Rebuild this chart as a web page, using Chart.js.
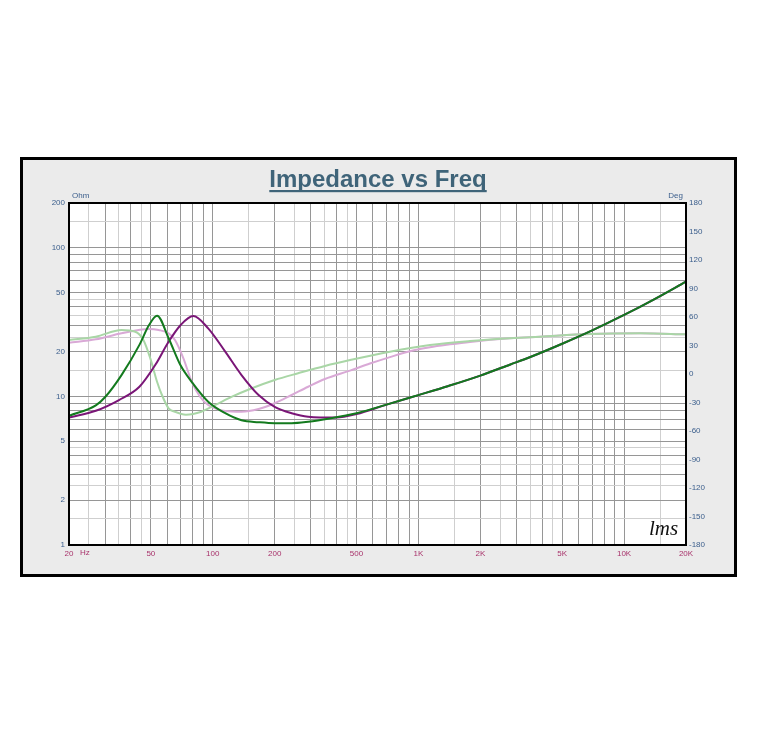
<!DOCTYPE html>
<html><head><meta charset="utf-8">
<script src="https://cdn.jsdelivr.net/npm/chart.js@4.4.0/dist/chart.umd.min.js"></script>
<style>html,body{margin:0;padding:0;background:#fff}canvas{display:block}</style>
</head><body>
<canvas id="c" width="763" height="756"></canvas>
<script>
// ---- axis ticks / labels ----
const xTickValues = [20, 50, 100, 200, 500, 1000, 2000, 5000, 10000, 20000];
const xTickLabels = ['20', '50', '100', '200', '500', '1K', '2K', '5K', '10K', '20K'];
const yTickValues = [1, 2, 5, 10, 20, 50, 100, 200];
const yTickLabels = ['1', '2', '5', '10', '20', '50', '100', '200'];
const phaseTicks = [-180, -150, -120, -90, -60, -30, 0, 30, 60, 90, 120, 150, 180];

// ---- impedance (Ohm) ----
const impGreenFreq = [20, 27, 30, 36, 44, 49, 53.6, 61, 69.5, 79, 95, 115, 138, 167, 200, 242, 291, 370, 500, 700, 1000, 1400, 2000, 2800, 3500, 5000, 7000, 10000, 14000, 20000];
const impGreen     = [7.4, 8.7, 9.9, 13.9, 22.2, 30.2, 34.9, 24.6, 16.3, 12.5, 9.2, 7.7, 6.9, 6.7, 6.6, 6.6, 6.75, 7.1, 7.7, 8.8, 10.2, 11.75, 13.8, 16.4, 18.4, 22.6, 27.8, 35.3, 45.0, 59.2];

const impPurpleFreq = [20, 27, 35, 44, 52.6, 61, 69.5, 80.4, 95, 115, 138, 167, 200, 242, 291, 400, 500, 700, 1000, 1400, 2000, 2800, 3500, 5000, 7000, 10000, 14000, 20000];
const impPurple     = [7.2, 8.0, 9.45, 11.6, 16.3, 23.3, 30.0, 34.7, 28.7, 20.0, 13.9, 10.2, 8.5, 7.7, 7.3, 7.2, 7.6, 8.8, 10.2, 11.75, 13.8, 16.4, 18.4, 22.6, 27.8, 35.3, 45.0, 59.2];

// ---- phase (Deg) ----
const phaseGreenFreq = [20, 27, 36, 42, 46, 49.7, 53.6, 56.6, 61, 65.5, 74, 88, 103, 124, 155, 200, 260, 351, 465, 727, 1138, 1781, 2786, 3900, 6800, 12000, 20000];
const phaseGreen     = [35.8, 39.3, 46.3, 44.5, 35.8, 16.5, -8.1, -22.1, -36.1, -39.7, -42.8, -39.7, -32.6, -23.9, -15.0, -6.3, 0.8, 8.5, 14.7, 23.5, 30.5, 34.7, 37.6, 39.3, 42.1, 42.8, 41.8];

const phasePurpleFreq = [20, 27, 36, 48.8, 54.6, 61, 65.5, 72, 79, 86.7, 95, 115, 138, 167, 200, 242, 291, 351, 465, 581, 727, 909, 1138, 1424, 1781, 2786, 3900, 6800, 12000, 20000];
const phasePurple     = [32.9, 36.5, 42.8, 47.4, 46.3, 42.8, 35.8, 16.5, -8.1, -23.9, -32.6, -38.9, -39.7, -36.8, -30.8, -22.1, -13.4, -5.3, 3.5, 11.0, 17.8, 24.0, 28.2, 31.2, 33.8, 37.6, 39.3, 42.1, 42.8, 41.8];

// ---- styling ----
const DARK_GRID = '#969696';
const LIGHT_GRID = '#cfcfcf';
const BLUE = '#3b5e8c';
const MAGENTA = '#a8336b';
const FONT = '"Liberation Sans", Arial, sans-serif';
Chart.defaults.font.family = FONT;

const gridMult = [1, 1.5, 2, 2.5, 3, 3.5, 4, 4.5, 5, 6, 7, 8, 9];
function gridValues(min, max) {
  const out = [];
  for (let d = 1; d <= 10000; d *= 10)
    for (const m of gridMult) {
      const v = +(m * d).toFixed(6);
      if (v >= min && v <= max) out.push(v);
    }
  if (!out.includes(max)) out.push(max);
  return out;
}
function isHalf(v) {
  const d = Math.pow(10, Math.floor(Math.log10(v) + 1e-9));
  const m = Math.round(v / d * 10) / 10;
  return Math.abs(m - Math.round(m)) > 1e-6;
}
const pts = (f, v) => f.map((x, i) => ({ x, y: v[i] }));

const framePlugin = {
  id: 'frame',
  beforeDraw(chart) {
    const ctx = chart.ctx, a = chart.chartArea;
    ctx.save();
    ctx.fillStyle = '#ffffff';
    ctx.fillRect(0, 0, chart.width, chart.height);
    ctx.fillStyle = '#ebebeb';
    ctx.fillRect(21.5, 158.5, 714, 417);
    ctx.lineWidth = 3;
    ctx.strokeStyle = '#000';
    ctx.strokeRect(21.5, 158.5, 714, 417);
    ctx.fillStyle = '#ffffff';
    ctx.fillRect(a.left, a.top, a.right - a.left, a.bottom - a.top);
    ctx.restore();
  },
  afterDraw(chart) {
    const ctx = chart.ctx, a = chart.chartArea;
    ctx.save();
    ctx.lineWidth = 2;
    ctx.strokeStyle = '#000';
    ctx.strokeRect(a.left, a.top, a.right - a.left, a.bottom - a.top);
    // title
    ctx.font = 'bold 24px ' + FONT;
    ctx.fillStyle = '#3f6479';
    ctx.textAlign = 'center';
    ctx.textBaseline = 'alphabetic';
    const title = 'Impedance vs Freq';
    ctx.fillText(title, 378, 187);
    const w = ctx.measureText(title).width;
    ctx.fillRect(378 - w / 2, 190, w, 2.2);
    // axis units
    ctx.font = '8px ' + FONT;
    ctx.fillStyle = BLUE;
    ctx.textAlign = 'left';
    ctx.textBaseline = 'middle';
    ctx.fillText('Ohm', 72, 196);
    ctx.textAlign = 'right';
    ctx.fillText('Deg', 683, 196);
    ctx.fillStyle = MAGENTA;
    ctx.textAlign = 'left';
    const xs = chart.scales.x;
    ctx.fillText('Hz', xs.getPixelForValue(20) + 11, 553);
    // logo
    ctx.font = 'italic 21px "Liberation Serif", "DejaVu Serif", serif';
    ctx.fillStyle = '#111';
    ctx.textBaseline = 'alphabetic';
    ctx.fillText('lms', 649, 535);
    ctx.restore();
  }
};

new Chart(document.getElementById('c'), {
  type: 'line',
  data: {
    datasets: [
      { label: 'Impedance 1', data: pts(impGreenFreq, impGreen), yAxisID: 'y', borderColor: '#137a1e', borderWidth: 2 },
      { label: 'Impedance 2', data: pts(impPurpleFreq, impPurple), yAxisID: 'y', borderColor: '#7a1677', borderWidth: 2 },
      { label: 'Phase 1', data: pts(phaseGreenFreq, phaseGreen), yAxisID: 'y1', borderColor: '#a9d6a6', borderWidth: 2 },
      { label: 'Phase 2', data: pts(phasePurpleFreq, phasePurple), yAxisID: 'y1', borderColor: '#d9a9d6', borderWidth: 2 }
    ]
  },
  options: {
    responsive: false,
    animation: false,
    events: [],
    layout: { padding: { top: 203, left: 0, right: 0, bottom: 0 }, autoPadding: false },
    elements: { point: { radius: 0 }, line: { cubicInterpolationMode: 'monotone', fill: false } },
    plugins: { legend: { display: false }, tooltip: { enabled: false }, title: { display: false } },
    scales: {
      x: {
        type: 'logarithmic', min: 20, max: 20000, position: 'bottom',
        afterBuildTicks: s => { s.ticks = gridValues(20, 20000).map(v => ({ value: v })); },
        afterFit: s => { s.height = 211; },
        grid: { color: c => (c.tick && isHalf(c.tick.value)) ? LIGHT_GRID : DARK_GRID, lineWidth: 1, drawTicks: false },
        border: { display: false },
        ticks: {
          autoSkip: false, maxRotation: 0, minRotation: 0, padding: 4, color: MAGENTA, font: { size: 8 },
          callback: v => { const i = xTickValues.indexOf(v); return i >= 0 ? xTickLabels[i] : ''; }
        }
      },
      y: {
        type: 'logarithmic', min: 1, max: 200, position: 'left',
        afterBuildTicks: s => { s.ticks = gridValues(1, 200).map(v => ({ value: v })); },
        afterFit: s => { s.width = 69; },
        grid: { color: c => (c.tick && isHalf(c.tick.value)) ? LIGHT_GRID : DARK_GRID, lineWidth: 1, drawTicks: false },
        border: { display: false },
        ticks: {
          autoSkip: false, padding: 4, color: BLUE, font: { size: 8 },
          callback: v => { const i = yTickValues.indexOf(v); return i >= 0 ? yTickLabels[i] : ''; }
        }
      },
      y1: {
        type: 'linear', min: -180, max: 180, position: 'right',
        afterBuildTicks: s => { s.ticks = phaseTicks.map(v => ({ value: v })); },
        afterFit: s => { s.width = 77; },
        grid: { display: false, drawTicks: false },
        border: { display: false },
        ticks: { autoSkip: false, padding: 3, color: BLUE, font: { size: 8 }, callback: v => String(v) }
      }
    }
  },
  plugins: [framePlugin]
});
</script>
</body></html>
